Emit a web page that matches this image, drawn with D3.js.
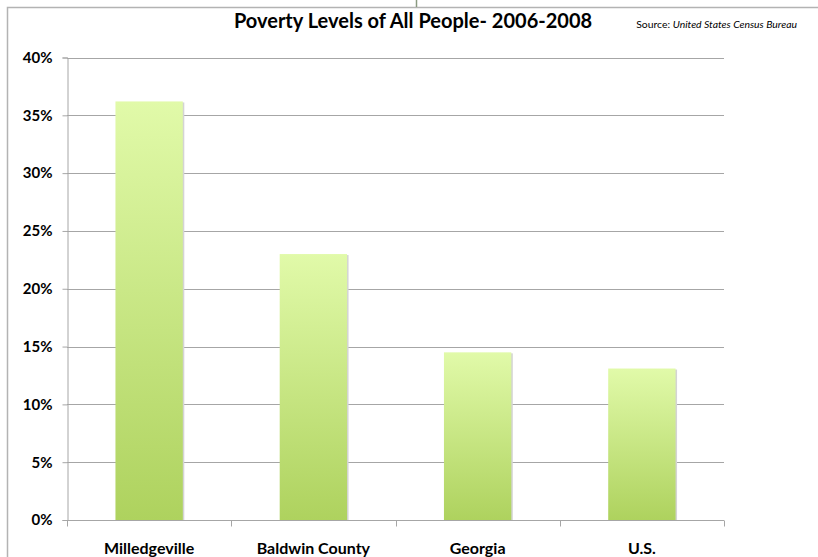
<html>
<script src='https://d3js.org/d3.v7.min.js'></script>
<style>
    body { margin: 0; background: #fff; }
    text { font-family: Lato, "Open Sans", sans-serif; }
    .grid line { stroke: #a6a6a6; }
    .axis path, .axis line { stroke: #a6a6a6; }
    .axis text { font-weight: bold; fill: #000; }
</style>
<body>
<svg width=818 height=557 id="chart1"></svg>
<script>
    var places = ["Milledgeville", "Baldwin County", "Georgia", "U.S."];
    var poverty = [36.2, 23.0, 14.5, 13.1];
    var yTicks = [0, 5, 10, 15, 20, 25, 30, 35, 40];

    var svg = d3.select("svg");
    var plotLeft = 67, plotRight = 724, plotTop = 57.5, plotBottom = 520;

    var defs = svg.append("defs");
    var grad = defs.append("linearGradient")
        .attr("id", "barGrad")
        .attr("x1", 0).attr("y1", 0).attr("x2", 0).attr("y2", 1);
    grad.append("stop").attr("offset", "0%").attr("stop-color", "#e1faa9");
    grad.append("stop").attr("offset", "100%").attr("stop-color", "#aed25e");

    // outer frame and the little connector at the top
    svg.append("rect")
        .attr("x", 7.5).attr("y", 7.5)
        .attr("width", 830).attr("height", 600)
        .attr("fill", "none").attr("stroke", "#b3b3b3").attr("stroke-width", 1.5);
    svg.append("line")
        .attr("x1", 416.5).attr("x2", 416.5).attr("y1", 0).attr("y2", 7)
        .attr("stroke", "#8a9a80").attr("stroke-width", 1.5);

    var xScale = d3.scaleBand().domain(places).range([plotLeft, plotRight]);
    var yScale = d3.scaleLinear().domain([0, 40]).range([plotBottom, plotTop]);

    // gridlines
    svg.append("g").attr("class", "grid")
        .selectAll("line")
        .data(yTicks.filter(function (d) { return d > 0; }))
        .enter().append("line")
        .attr("x1", plotLeft).attr("x2", plotRight)
        .attr("y1", function (d) { return Math.round(yScale(d)) + 0.5; })
        .attr("y2", function (d) { return Math.round(yScale(d)) + 0.5; });

    var barW = xScale.bandwidth() * 0.41;

    // soft shadow on right side
    svg.selectAll(".shadow")
        .data(poverty)
        .enter().append("rect")
        .attr("class", "shadow")
        .attr("x", function (d, i) { return xScale(places[i]) + (xScale.bandwidth() - barW) / 2 + 1.5; })
        .attr("y", function (d) { return yScale(d) + 1; })
        .attr("width", barW)
        .attr("height", function (d) { return plotBottom - yScale(d) - 1; })
        .attr("fill", "#d4d4d4");

    svg.selectAll(".bar")
        .data(poverty)
        .enter().append("rect")
        .attr("class", "bar")
        .attr("x", function (d, i) { return xScale(places[i]) + (xScale.bandwidth() - barW) / 2; })
        .attr("y", function (d) { return yScale(d); })
        .attr("width", barW)
        .attr("height", function (d) { return plotBottom - yScale(d); })
        .attr("fill", "url(#barGrad)");

    // y axis
    var yAxis = svg.append("g").attr("class", "axis")
        .attr("transform", "translate(" + (plotLeft + 0.5) + ",0)")
        .call(d3.axisLeft(yScale).tickValues(yTicks).tickSize(5).tickPadding(10)
            .tickFormat(function (d) { return d + "%"; }));
    yAxis.selectAll("text").style("font-size", "15px");

    // x axis with ticks between categories
    var xAxis = svg.append("g").attr("class", "axis")
        .attr("transform", "translate(0," + (plotBottom + 0.5) + ")");
    xAxis.append("line").attr("x1", plotLeft).attr("x2", plotRight);
    xAxis.selectAll(".sep")
        .data(places.concat(["end"]))
        .enter().append("line")
        .attr("x1", function (d, i) { return Math.round(plotLeft + i * xScale.bandwidth()) + 0.5; })
        .attr("x2", function (d, i) { return Math.round(plotLeft + i * xScale.bandwidth()) + 0.5; })
        .attr("y1", 0).attr("y2", 6);
    xAxis.selectAll(".lbl")
        .data(places)
        .enter().append("text")
        .attr("x", function (d) { return xScale(d) + xScale.bandwidth() / 2; })
        .attr("y", 33)
        .attr("text-anchor", "middle")
        .style("font-size", "16px")
        .text(function (d) { return d; });

    svg.append("text")
        .attr("x", 413).attr("y", 28)
        .attr("text-anchor", "middle")
        .style("font-size", "20px").style("font-weight", "bold")
        .text("Poverty Levels of All People- 2006-2008");

    var src = svg.append("text")
        .attr("x", 797).attr("y", 28)
        .attr("text-anchor", "end")
        .style("font-size", "10.4px");
    src.append("tspan").text("Source: ");
    src.append("tspan").style("font-style", "italic").text("United States Census Bureau");
</script>
</body>
</html>
